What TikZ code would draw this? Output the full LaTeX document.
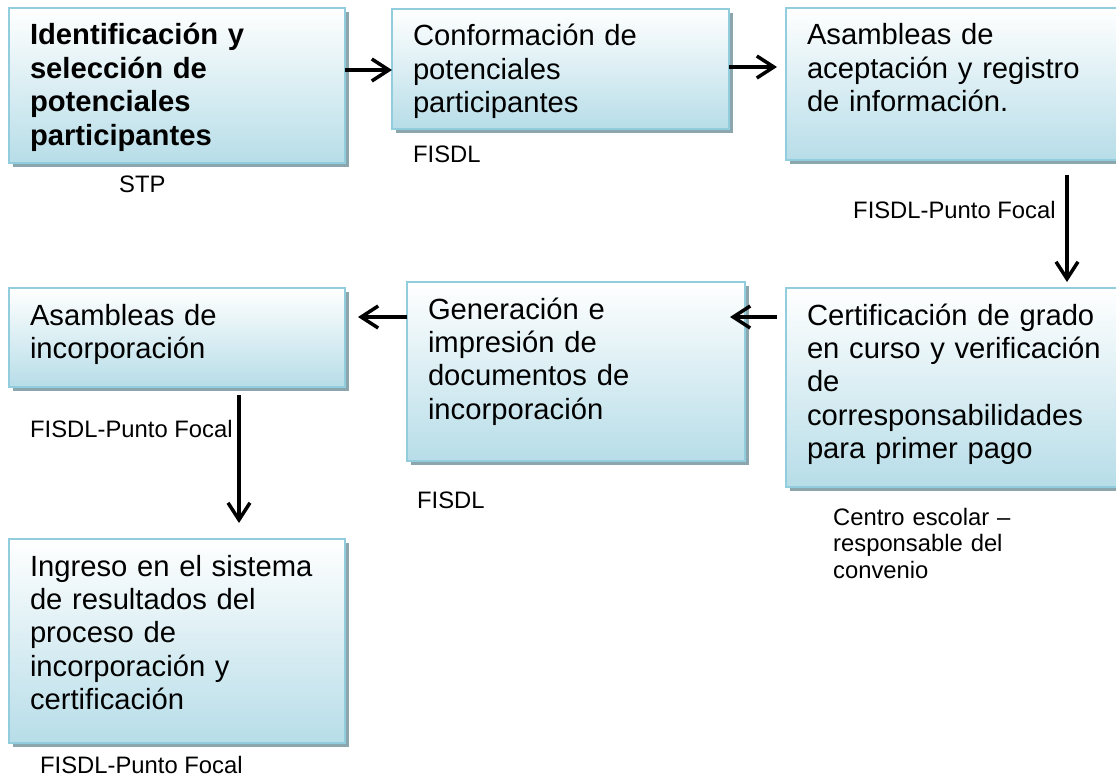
\documentclass[tikz,border=0pt]{standalone}
\usepackage{fontspec}
\setmainfont{Liberation Sans}
\usepackage{tikz}
\usetikzlibrary{shadows,arrows.meta}
\definecolor{boxblue}{RGB}{183,221,232}
\definecolor{boxline}{RGB}{146,205,221}
\definecolor{boxshade}{RGB}{140,166,173}
\tikzset{%
  stage box/.style={
    rectangle,
    draw=boxline,
    line width=2pt,
    top color=white,
    bottom color=boxblue,
    drop shadow={shadow xshift=4pt, shadow yshift=-4pt, fill=boxshade, opacity=1},
    anchor=north west,
    align=left,
    inner xsep=21pt,
    inner ysep=0pt,
    outer sep=0pt,
    text height=37pt,
    font=\fontsize{29.2}{33.4}\selectfont
  },
  stage bold/.style={
    font=\fontsize{29.2}{33.4}\selectfont\bfseries
  },
  stage owner/.style={
    anchor=base west,
    inner sep=0pt,
    font=\fontsize{23.8}{26.7}\selectfont
  },
  flow/.style={
    line width=3.5pt,
    ->
  },
}

\begin{document}
\begin{tikzpicture}[x=1pt, y=-1pt, >={Straight Barb[length=17pt,width=22pt]}]
\useasboundingbox (0,0) rectangle (1116,776);
\clip (0,0) rectangle (1116,776);

    % upper row
    \node[stage box, stage bold, text width=294pt, text depth=118pt] (ident) at (9,8)
        {Identificación y\\selección de\\potenciales\\participantes};
    \node[stage box, text width=295pt, text depth=83pt] (conf) at (392,9)
        {Conformación de\\potenciales\\participantes};
    \node[stage box, text width=302pt, text depth=115pt] (asamb) at (786,8)
        {Asambleas de\\aceptación y registro\\de información.};

    % middle row
    \node[stage box, text width=302pt, text depth=162pt] (cert) at (786,288)
        {Certificación de grado\\en curso y verificación\\de\\corresponsabilidades\\para primer pago};
    \node[stage box, text width=296pt, text depth=142pt] (gen) at (407,282)
        {Generación e\\impresión de\\documentos de\\incorporación};
    \node[stage box, text width=294pt, text depth=62pt] (asinc) at (9,288)
        {Asambleas de\\incorporación};

    % lower row
    \node[stage box, text width=294pt, text depth=167pt] (ingreso) at (9,539)
        {Ingreso en el sistema\\de resultados del\\proceso de\\incorporación y\\certificación};

    % who is in charge
    \node[stage owner] (stp) at (119,192) {STP};
    \node[stage owner] (fisdl_a) at (413,162) {FISDL};
    \node[stage owner] (focal_a) at (853,218) {FISDL-Punto Focal};
    \node[stage owner] (focal_b) at (30,437) {FISDL-Punto Focal};
    \node[stage owner] (fisdl_b) at (417,508) {FISDL};
    \node[stage owner, text width=250pt, align=left] (centro) at (833,525)
        {Centro escolar –\\responsable del\\convenio};
    \node[stage owner] (focal_c) at (40,773) {FISDL-Punto Focal};

   \draw[flow]  (ident.east |- 0,70) -- (conf.west |- 0,70);
   \draw[flow, shorten >=9pt]  (conf.east |- 0,67) -- (asamb.west |- 0,67);
   \draw[flow, shorten <=15pt, shorten >=6pt]  (asamb.south -| 1067,0) -- (cert.north -| 1067,0);
   \draw[flow, shorten <=9pt, shorten >=-15pt]  (cert.west |- 0,317) -- (gen.east |- 0,317);
   \draw[flow, shorten >=13pt]  (gen.west |- 0,317) -- (asinc.east |- 0,317);
   \draw[flow, shorten <=8pt, shorten >=16pt]  (asinc.south -| 239,0) -- (ingreso.north -| 239,0);
\end{tikzpicture}
\end{document}
